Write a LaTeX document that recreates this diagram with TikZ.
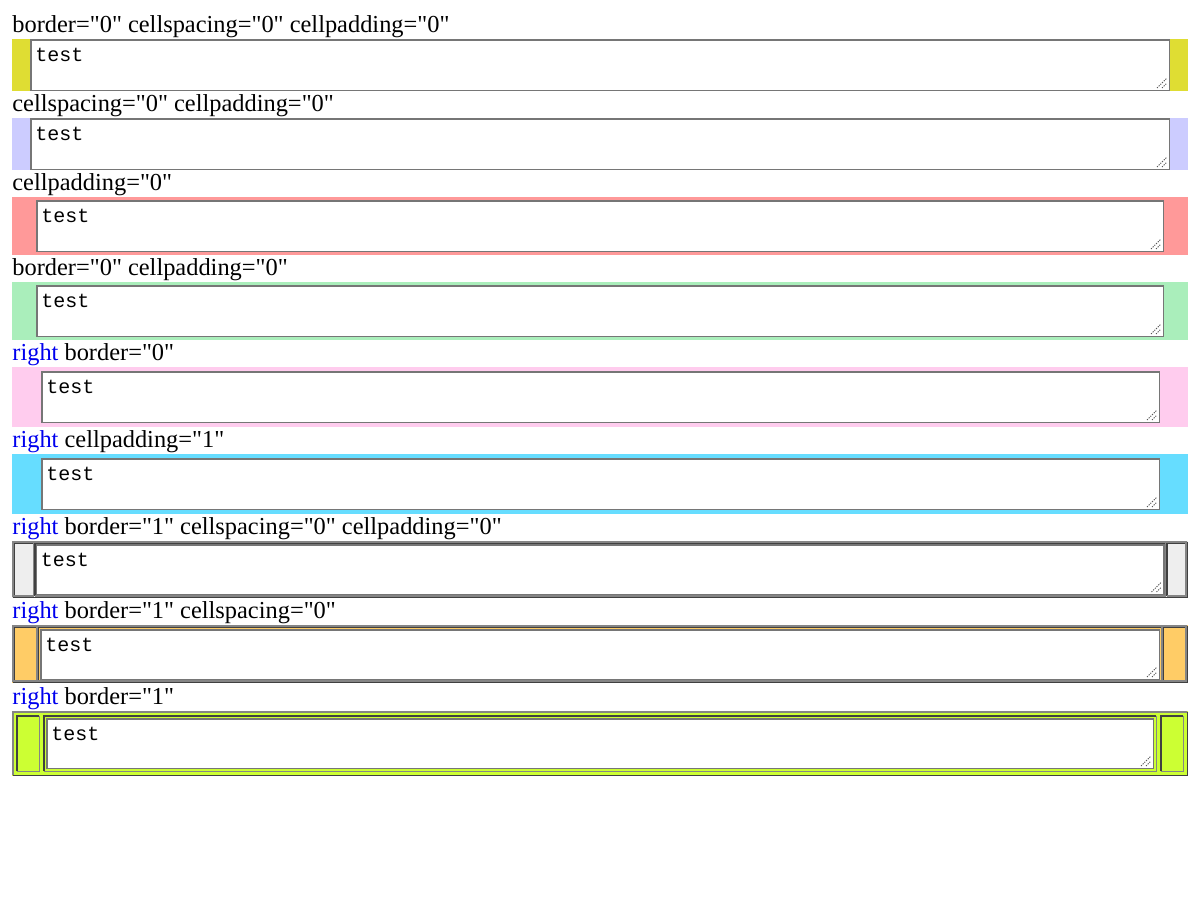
\documentclass[tikz,border=0pt]{standalone}
\usepackage{fontspec}
\setmainfont{Liberation Serif}[Ligatures=TeXOff]
\newfontfamily\monofont{Liberation Mono}

\definecolor{yellowbg}{HTML}{DFDD33}
\definecolor{lavenderbg}{HTML}{CCCCFF}
\definecolor{redbg}{HTML}{FF9999}
\definecolor{greenbg}{HTML}{AAEEBB}
\definecolor{pinkbg}{HTML}{FFCCEE}
\definecolor{cyanbg}{HTML}{66DDFF}
\definecolor{greybg}{HTML}{EEEEEE}
\definecolor{orangebg}{HTML}{FFCC66}
\definecolor{limebg}{HTML}{CCFF33}
\definecolor{linkblue}{HTML}{0000EE}
\definecolor{areagray}{HTML}{767676}
\definecolor{gripgray}{HTML}{555555}
\definecolor{edgelight}{HTML}{858585}
\definecolor{edgedark}{HTML}{404040}

% textarea: name, x1, y1, x2, y2
\newcommand{\areabox}[5]{%
  \draw[area] (#2+0.75,#3+0.75) rectangle (#4-0.75,#5-0.75);
  \draw[grip] (#4-13,#5-3) -- (#4-3,#5-13) (#4-8,#5-3) -- (#4-3,#5-8);
  \node[entry] (#1) at (#2+5,#3+22.5) {test};
}
% bevelled border: x1, y1, x2, y2, top-left style, bottom-right style
\newcommand{\bevel}[6]{%
  \draw[#5] (#1+0.75,#4-0.75) -- (#1+0.75,#2+0.75) -- (#3-0.75,#2+0.75);
  \draw[#6] (#3-0.75,#2+0.75) -- (#3-0.75,#4-0.75) -- (#1+0.75,#4-0.75);
}

\begin{document}
\begin{tikzpicture}[x=0.5pt,y=-0.5pt
  , caption/.style={anchor=base west, inner sep=0pt, font=\fontsize{12.2}{14}\selectfont}
  , entry/.style={anchor=base west, inner sep=0pt, font=\monofont\fontsize{10}{12}\selectfont}
  , area/.style={draw=areagray, fill=white, line width=0.75pt}
  , grip/.style={draw=gripgray, line width=0.5pt, dash pattern=on 0.6pt off 0.6pt}
  , lightedge/.style={draw=edgelight, line width=0.75pt}
  , darkedge/.style={draw=edgedark, line width=0.75pt}
  ]

  \useasboundingbox (0,0) rectangle (1200,900);

  \node[caption] (cap1) at (12,32) {border="0" cellspacing="0" cellpadding="0"};
  \fill[yellowbg] (12,39) rectangle (1188,91);
  \areabox{txt1}{30}{39}{1170}{91}

  \node[caption] (cap2) at (12,111) {cellspacing="0" cellpadding="0"};
  \fill[lavenderbg] (12,118) rectangle (1188,170);
  \areabox{txt2}{30}{118}{1170}{170}

  \node[caption] (cap3) at (12,190) {cellpadding="0"};
  \fill[redbg] (12,197) rectangle (1188,255);
  \areabox{txt3}{36}{200}{1164}{252}

  \node[caption] (cap4) at (12,275) {border="0" cellpadding="0"};
  \fill[greenbg] (12,282) rectangle (1188,340);
  \areabox{txt4}{36}{285}{1164}{337}

  \node[caption] (cap5) at (12,360) {\textcolor{linkblue}{right} border="0"};
  \fill[pinkbg] (12,367) rectangle (1188,427);
  \areabox{txt5}{41}{371}{1160}{423}

  \node[caption] (cap6) at (12,447) {\textcolor{linkblue}{right} cellpadding="1"};
  \fill[cyanbg] (12,454) rectangle (1188,514);
  \areabox{txt6}{41}{458}{1160}{510}

  % border="1" tables
  \node[caption] (cap7) at (12,534) {\textcolor{linkblue}{right} border="1" cellspacing="0" cellpadding="0"};
  \fill[greybg] (12,541) rectangle (1188,598);
  \bevel{12}{541}{1188}{598}{lightedge}{darkedge}
  \bevel{13.5}{542.5}{34}{596.5}{darkedge}{lightedge}
  \bevel{34}{542.5}{1166}{596.5}{darkedge}{lightedge}
  \bevel{1166}{542.5}{1186.5}{596.5}{darkedge}{lightedge}
  \areabox{txt7}{35.5}{544}{1164.5}{595}

  \node[caption] (cap8) at (12,618) {\textcolor{linkblue}{right} border="1" cellspacing="0"};
  \fill[orangebg] (12,625) rectangle (1188,683);
  \bevel{12}{625}{1188}{683}{lightedge}{darkedge}
  \bevel{13.5}{626.5}{37.5}{681.5}{darkedge}{lightedge}
  \bevel{37.5}{626.5}{1162.5}{681.5}{darkedge}{lightedge}
  \bevel{1162.5}{626.5}{1186.5}{681.5}{darkedge}{lightedge}
  \areabox{txt8}{40}{629}{1160}{680}

  \node[caption] (cap9) at (12,704) {\textcolor{linkblue}{right} border="1"};
  \fill[limebg] (12,711) rectangle (1188,776);
  \bevel{12}{711}{1188}{776}{lightedge}{darkedge}
  \bevel{16}{715}{40}{772}{darkedge}{lightedge}
  \bevel{43}{715}{1157}{772}{darkedge}{lightedge}
  \bevel{1160}{715}{1184}{772}{darkedge}{lightedge}
  \areabox{txt9}{46}{718}{1154}{769}

\end{tikzpicture}
\end{document}
